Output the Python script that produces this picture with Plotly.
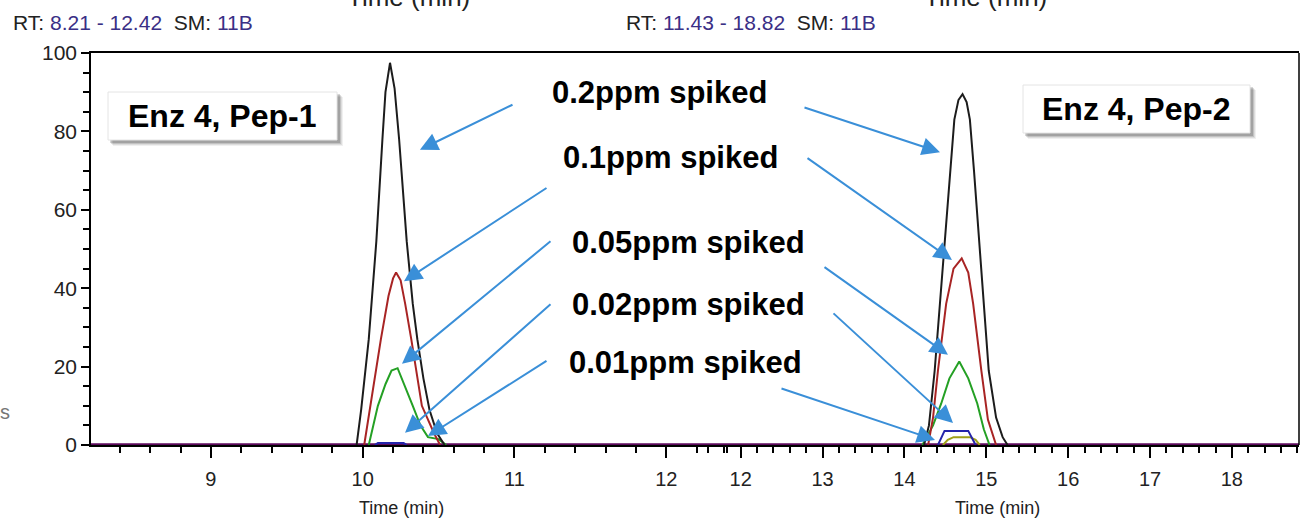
import plotly.graph_objects as go

W, H = 1316, 522

# ---- chromatogram traces (time in min, relative abundance in %) ----
# Pep-1 window
pep1_range = [8.21, 12.42]
pep1_02_t = [9.96, 9.99, 10.04, 10.09, 10.13, 10.15, 10.18, 10.21, 10.24, 10.29, 10.33, 10.36, 10.40, 10.44, 10.49, 10.54]
pep1_02_v = [0, 9, 27, 52, 78, 90, 97.5, 91, 78, 52, 36, 27, 17, 9, 3, 0]
pep1_01_t = [10.01, 10.05, 10.12, 10.17, 10.20, 10.22, 10.25, 10.28, 10.32, 10.39, 10.47, 10.51]
pep1_01_v = [0, 10, 27, 38, 42.5, 44, 42, 36, 27, 10, 3, 0]
pep1_005_t = [10.04, 10.10, 10.15, 10.19, 10.23, 10.28, 10.33, 10.38, 10.43, 10.50, 10.55]
pep1_005_v = [0, 10, 15.5, 19, 19.6, 15, 10, 5, 2, 1.5, 0]
pep1_002_t = [10.08, 10.10, 10.27, 10.29]
pep1_002_v = [0, 0.5, 0.5, 0]
pep1_blank_t = [8.21, 12.42]
pep1_blank_v = [0, 0]

# Pep-2 window
pep2_range = [11.43, 18.82]
pep2_02_t = [14.24, 14.30, 14.37, 14.47, 14.56, 14.61, 14.66, 14.71, 14.76, 14.80, 14.85, 14.94, 15.03, 15.12, 15.20, 15.26]
pep2_02_v = [0, 5, 19, 45, 70, 83, 88, 89.5, 87.5, 83, 70, 45, 19, 7, 2, 0]
pep2_01_t = [14.29, 14.35, 14.41, 14.51, 14.60, 14.70, 14.78, 14.84, 14.94, 15.02, 15.12]
pep2_01_v = [0, 7, 19, 36, 45, 47.6, 44, 36, 19, 6.5, 0]
pep2_005_t = [14.22, 14.35, 14.45, 14.55, 14.67, 14.78, 14.89, 14.97, 15.04]
pep2_005_v = [0, 5, 10.6, 17, 21.3, 17, 10.6, 4, 0]
pep2_002_t = [14.41, 14.49, 14.78, 14.87]
pep2_002_v = [0, 3.6, 3.6, 0]
pep2_001_t = [14.47, 14.53, 14.60, 14.80, 14.87, 14.92]
pep2_001_v = [0, 1.3, 2.0, 2.0, 1.3, 0]
pep2_blank_t = [11.43, 18.82]
pep2_blank_v = [0, 0]

# spike levels and where each callout arrow points (time, abundance)
spike_labels = ["0.2ppm spiked", "0.1ppm spiked", "0.05ppm spiked", "0.02ppm spiked", "0.01ppm spiked"]
pep1_arrow_tips = [(10.377, 75.3), (10.272, 41.8), (10.259, 20.7), (10.279, 3.1), (10.43, 2.3)]
pep2_arrow_tips = [(14.435, 74.7), (14.581, 47.2), (14.532, 23.0), (14.594, 5.6), (14.374, 1.3)]

COL = {
    "0.2": "#1c1c1c",
    "0.1": "#a82424",
    "0.05": "#24a024",
    "0.02": "#2424aa",
    "0.01": "#a0a018",
    "blank": "#5c0a5c",
}
ARROW = "#3a8fd8"
FONT = "Liberation Sans, Arial, sans-serif"


def px(x):
    return x / W


def py(y):
    return (H - y) / H


fig = go.Figure()


def add_line(t, v, color, xa, width=2):
    fig.add_trace(go.Scatter(x=t, y=v, mode="lines", xaxis=xa, yaxis="y",
                             line=dict(color=color, width=width), showlegend=False,
                             hoverinfo="skip"))


# baselines first, then peaks on top
add_line(pep1_blank_t, pep1_blank_v, COL["blank"], "x", 3.5)
add_line(pep2_blank_t, pep2_blank_v, COL["blank"], "x2", 3.5)

add_line(pep1_002_t, pep1_002_v, COL["0.02"], "x")
add_line(pep1_005_t, pep1_005_v, COL["0.05"], "x")
add_line(pep1_01_t, pep1_01_v, COL["0.1"], "x")
add_line(pep1_02_t, pep1_02_v, COL["0.2"], "x")

add_line(pep2_001_t, pep2_001_v, COL["0.01"], "x2")
add_line(pep2_002_t, pep2_002_v, COL["0.02"], "x2")
add_line(pep2_005_t, pep2_005_v, COL["0.05"], "x2")
add_line(pep2_01_t, pep2_01_v, COL["0.1"], "x2")
add_line(pep2_02_t, pep2_02_v, COL["0.2"], "x2")

y_dom = [py(445), py(53)]

xcommon = dict(
    showline=True, linecolor="black", linewidth=1.5, mirror=True, automargin=False,
    ticks="outside", ticklen=11, tickwidth=1.5, tickcolor="black",
    dtick=1, tick0=0, showgrid=False, zeroline=False,
    tickfont=dict(family=FONT, size=20, color="#222"),
    ticklabelstandoff=4,
    minor=dict(dtick=0.2, tick0=0, ticks="outside", ticklen=6, tickwidth=1.5, tickcolor="black", showgrid=False),
)

fig.update_layout(
    width=W, height=H,
    margin=dict(l=0, r=0, t=0, b=0, autoexpand=False),
    paper_bgcolor="white", plot_bgcolor="white",
    xaxis=dict(domain=[px(91), px(730)], range=pep1_range, anchor="y", **xcommon),
    xaxis2=dict(domain=[px(694), px(1299)], range=pep2_range, anchor="y", **xcommon),
    yaxis=dict(
        domain=y_dom, range=[0, 100], anchor="x", automargin=False,
        showline=True, linecolor="black", linewidth=1.5, mirror=True,
        ticks="outside", ticklen=8, tickwidth=1.5, tickcolor="black",
        dtick=20, showgrid=False, zeroline=False,
        tickfont=dict(family=FONT, size=21, color="#222"),
        minor=dict(dtick=5, ticks="outside", ticklen=6, tickwidth=1.5, tickcolor="black", showgrid=False),
    ),
)

shapes = []
# right border of the Pep-2 window
shapes.append(dict(type="line", xref="x2 domain", yref="paper", x0=1, x1=1,
                   y0=y_dom[0], y1=y_dom[1], line=dict(color="black", width=1.5)))

annotations = []


def label_box(text, x0, y0, x1, y1):
    # soft drop shadow, then the white card
    for off, a in [(6, 0.06), (5, 0.08), (4, 0.12), (3, 0.16)]:
        shapes.append(dict(type="rect", xref="paper", yref="paper",
                           x0=px(x0 + off - 1), x1=px(x1 + off), y0=py(y1 + off), y1=py(y0 + off - 1),
                           fillcolor=f"rgba(0,0,0,{a})", line=dict(width=0), layer="above"))
    shapes.append(dict(type="rect", xref="paper", yref="paper",
                       x0=px(x0), x1=px(x1), y0=py(y1), y1=py(y0),
                       fillcolor="white", line=dict(color="#e4e4e4", width=1), layer="above"))
    annotations.append(dict(text=f"<b>{text}</b>", xref="paper", yref="paper",
                            x=px((x0 + x1) / 2), y=py((y0 + y1) / 2),
                            xanchor="center", yanchor="middle", showarrow=False,
                            font=dict(family=FONT, size=32, color="black")))


label_box("Enz 4, Pep-1", 108, 92, 337, 140)
label_box("Enz 4, Pep-2", 1023, 85, 1250, 133)

# spike level labels
label_pos = [(659, 92), (670, 157), (688, 242), (688, 304), (685, 362)]
for text, (lx, ly) in zip(spike_labels, label_pos):
    annotations.append(dict(text=f"<b>{text}</b>", xref="paper", yref="paper",
                            x=px(lx), y=py(ly), xanchor="center", yanchor="middle",
                            showarrow=False, font=dict(family=FONT, size=31, color="black")))

# arrow tails (pixel positions next to each label)
pep1_tails = [(514, 104), (548, 187), (552, 240), (552, 303), (548, 360)]
pep2_tails = [(803, 107), (806, 157), (823, 266), (832, 312), (780, 388)]


def tip_px(t, v, xr, xd):
    x = xd[0] + (t - xr[0]) / (xr[1] - xr[0]) * (xd[1] - xd[0])
    y = 445 - v / 100 * 392
    return x, y


for (t, v), (sx, sy) in zip(pep1_arrow_tips, pep1_tails):
    tx, ty = tip_px(t, v, pep1_range, (91, 730))
    annotations.append(dict(x=t, y=v, xref="x", yref="y", ax=sx - tx, ay=sy - ty,
                            showarrow=True, arrowhead=2, arrowsize=1.8, arrowwidth=2,
                            arrowcolor=ARROW, text=""))
for (t, v), (sx, sy) in zip(pep2_arrow_tips, pep2_tails):
    tx, ty = tip_px(t, v, pep2_range, (694, 1299))
    annotations.append(dict(x=t, y=v, xref="x2", yref="y", ax=sx - tx, ay=sy - ty,
                            showarrow=True, arrowhead=2, arrowsize=1.8, arrowwidth=2,
                            arrowcolor=ARROW, text=""))

# header lines of each window
num = "#3a2f86"
annotations.append(dict(
    text=f"RT: <span style='color:{num}'>8.21 - 12.42</span>  SM: <span style='color:{num}'>11B</span>",
    xref="paper", yref="paper", x=px(11), y=py(22), xanchor="left", yanchor="middle",
    showarrow=False, font=dict(family=FONT, size=21, color="#222")))
annotations.append(dict(
    text=f"RT: <span style='color:{num}'>11.43 - 18.82</span>  SM: <span style='color:{num}'>11B</span>",
    xref="paper", yref="paper", x=px(624), y=py(22), xanchor="left", yanchor="middle",
    showarrow=False, font=dict(family=FONT, size=21, color="#222")))

# axis titles
for cx in (401, 997):
    annotations.append(dict(text="Time (min)", xref="paper", yref="paper", x=px(cx), y=py(508),
                            xanchor="center", yanchor="middle", showarrow=False,
                            font=dict(family=FONT, size=18, color="#222")))
# titles of the row above, running off the top edge
for cx in (408, 985):
    annotations.append(dict(text="Time (min)", xref="paper", yref="paper", x=px(cx), y=py(-3),
                            xanchor="center", yanchor="middle", showarrow=False,
                            font=dict(family=FONT, size=26, color="#222")))
annotations.append(dict(text="s", xref="paper", yref="paper", x=px(5), y=py(412),
                        xanchor="center", yanchor="middle", showarrow=False,
                        font=dict(family=FONT, size=20, color="#777")))

fig.update_layout(shapes=shapes, annotations=annotations)
fig.write_html("out.html")
